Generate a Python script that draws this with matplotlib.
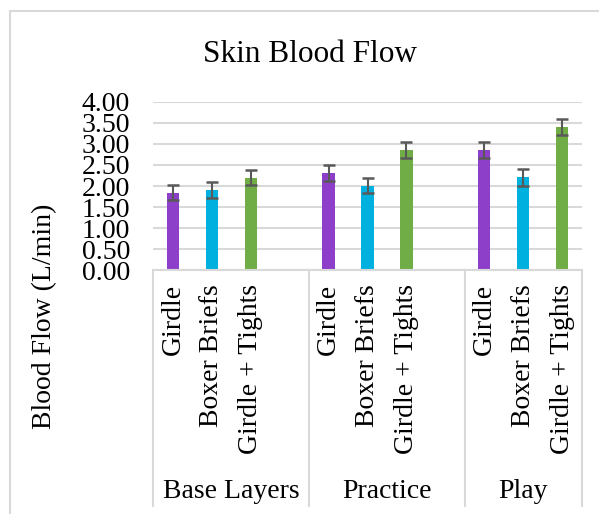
import numpy as np
import matplotlib
matplotlib.use("Agg")
import matplotlib.pyplot as plt
import matplotlib.transforms as mtransforms
from matplotlib.patches import Rectangle

plt.rcParams['font.family'] = ['Liberation Serif', 'DejaVu Serif']

# data
groups = ["Base Layers", "Practice", "Play"]
garments = ["Girdle", "Boxer Briefs", "Girdle + Tights"]
colors = ["#8E3FC9", "#00B0DE", "#70AD47"]
means = [
    [1.84, 1.91, 2.20],   # Base Layers
    [2.31, 2.01, 2.86],   # Practice
    [2.85, 2.21, 3.40],   # Play
]
errors = [
    [0.18, 0.19, 0.17],
    [0.19, 0.17, 0.19],
    [0.19, 0.20, 0.19],
]
yticks = [0.0, 0.5, 1.0, 1.5, 2.0, 2.5, 3.0, 3.5, 4.0]

W, H = 599, 514
fig = plt.figure(figsize=(W / 100, H / 100), dpi=100)

# light chart border (only left/top visible in the reference)
fig.patches.append(Rectangle((10 / W, -0.1), 1.2, 1 - 11 / H + 0.1,
                             transform=fig.transFigure, fill=False,
                             edgecolor="#D9D9D9", linewidth=1.5))

ax = fig.add_axes([153.5 / W, 1 - 270.3 / H, 428 / W, 168.6 / H])

slot = 4  # three bars + an empty slot per group
xpos, xlabels = [], []
for g, grp in enumerate(groups):
    for i, name in enumerate(garments):
        x = g * slot + i
        ax.bar(x, means[g][i], width=0.32, color=colors[i], zorder=2)
        ax.errorbar(x, means[g][i], yerr=errors[g][i], fmt="none",
                    ecolor="#595959", elinewidth=1.5, capsize=4.5,
                    capthick=1.8, zorder=3)
        xpos.append(x)
        xlabels.append(name)

ax.set_xlim(-0.5, len(groups) * slot - 1.5)
ax.set_ylim(0, 4.0)
ax.set_yticks(yticks)
ax.set_yticklabels([f"{v:.2f}" for v in yticks], fontsize=20)
ax.yaxis.grid(True, color="#D9D9D9", linewidth=1.5, zorder=0)
ax.set_axisbelow(True)
ax.tick_params(axis="y", length=0, pad=17)

ax.set_xticks(xpos)
ax.set_xticklabels(xlabels, rotation=90, fontsize=20, va="top")
ax.tick_params(axis="x", length=0, pad=10)

for side in ["top", "right", "left"]:
    ax.spines[side].set_visible(False)
ax.spines["bottom"].set_color("#D9D9D9")
ax.spines["bottom"].set_linewidth(1.5)

# group level of the category axis
trans = mtransforms.blended_transform_factory(ax.transData, ax.transAxes)
bounds = [g * slot - 0.5 for g in range(len(groups))] + [len(groups) * slot - 1.5]
for b in bounds:
    ax.plot([b, b], [0, -1.40], transform=trans, color="#D9D9D9",
            linewidth=1.5, clip_on=False)
for g, grp in enumerate(groups):
    cx = (bounds[g] + bounds[g + 1]) / 2
    ax.text(cx, -1.31, grp, transform=trans, ha="center", va="center",
            fontsize=20)

fig.text(45 / W, 1 - 316.5 / H, "Blood Flow (L/min)", rotation=90,
         ha="center", va="center", fontsize=20)
fig.text(310 / W, 1 - 62 / H, "Skin Blood Flow", ha="center",
         va="baseline", fontsize=22.5)

fig.savefig("out.png", dpi=100)
